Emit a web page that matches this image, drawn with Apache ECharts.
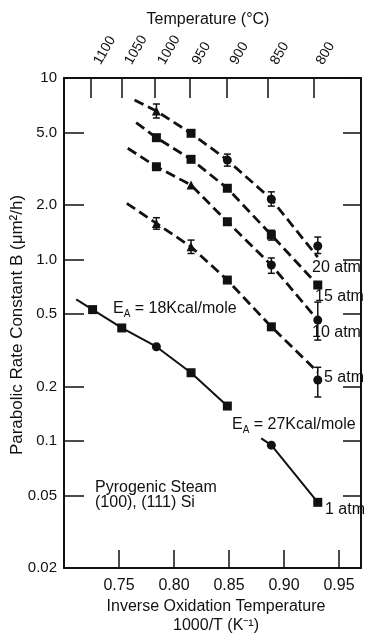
<!DOCTYPE html>
<html>
<head>
<meta charset="utf-8">
<script src="https://cdn.jsdelivr.net/npm/echarts@6/dist/echarts.min.js"></script>
<style>
  html, body { margin: 0; padding: 0; background: #fff; }
  #chart { width: 365px; height: 634px; }
</style>
</head>
<body>
<div id="chart"></div>
<script>
// ---- axes ----
const tempLabels = ['1100', '1050', '1000', '950', '900', '850', '800'];
const tempTickPos = [0.7247, 0.7529, 0.7829, 0.8141, 0.8484, 0.8853, 0.9268];
const invTicks = [0.75, 0.80, 0.85, 0.90, 0.95];
const rateTicks = [0.02, 0.05, 0.1, 0.2, 0.5, 1, 2, 5, 10];
const rateTickLabels = ['0.02', '0.05', '0.1', '0.2', '0.5', '1.0', '2.0', '5.0', '10'];

// 1000/T of the measurement temperatures, 1100 ... 800 °C
const invT = [0.726, 0.7525, 0.784, 0.8155, 0.8485, 0.8885, 0.9307];

// ---- 1 atm (all seven temperatures) ----
const b1atm = [0.53, 0.42, 0.331, 0.238, 0.156, 0.095, 0.046];
const shape1atm = ['rect', 'rect', 'circle', 'rect', 'rect', 'circle', 'rect'];
const fit18 = [[0.7111, 0.604], [0.726, 0.53], [0.7525, 0.42], [0.784, 0.331], [0.8155, 0.238], [0.8485, 0.156]];
const fit27 = [[0.8793, 0.1035], [0.8885, 0.095], [0.9307, 0.046]];

// ---- high pressure runs (1000 ... 800 °C) ----
const b20 = [6.58, 4.96, 3.53, 2.15, 1.187];
const b15 = [4.69, 3.565, 2.47, 1.365, 0.724];
const b10 = [3.245, 2.573, 1.615, 0.933, 0.464];
const b5 = [1.582, 1.176, 0.771, 0.426, 0.217];
const shape20 = ['triangle', 'rect', 'circle', 'circle', 'circle'];
const shape15 = ['rect', 'rect', 'rect', 'rect', 'rect'];
const shape10 = ['rect', 'triangle', 'rect', 'circle', 'circle'];
const shape5 = ['triangle', 'triangle', 'rect', 'rect', 'circle'];

// dashed fits
const fit20 = [[0.7641, 7.56], [0.784, 6.58], [0.8155, 4.96], [0.8485, 3.53], [0.8885, 2.15], [0.9307, 1.03]];
const fit15 = [[0.7656, 5.67], [0.784, 4.69], [0.8155, 3.565], [0.8485, 2.47], [0.8885, 1.365], [0.9307, 0.724]];
const fit10 = [[0.758, 4.10], [0.784, 3.245], [0.8155, 2.573], [0.8485, 1.615], [0.8885, 0.933], [0.9307, 0.464]];
const fit5 = [[0.7571, 2.04], [0.784, 1.582], [0.8155, 1.176], [0.8485, 0.771], [0.8885, 0.426], [0.9307, 0.24]];

// error bars: [1000/T, low, high]
const err20 = [[0.784, 6.02, 7.19], [0.8485, 3.27, 3.81], [0.8885, 1.97, 2.36], [0.9307, 1.08, 1.33]];
const err15 = [[0.8885, 1.28, 1.45]];
const err10 = [[0.8885, 0.84, 1.02], [0.9307, 0.36, 0.583]];
const err5 = [[0.784, 1.47, 1.70], [0.8155, 1.08, 1.28], [0.9307, 0.175, 0.255]];

const INK = '#111';
const FONT = '"Liberation Sans", Arial, sans-serif';

function markers(xs, ys, shapes) {
  return ys.map((y, i) => ({ value: [xs[i], y], symbol: shapes[i] }));
}

const hiT = invT.slice(2);

function scatter(data) {
  return {
    type: 'scatter', data: data, symbolSize: 9, z: 5,
    itemStyle: { color: INK, opacity: 1 }, silent: true
  };
}
function dashed(data) {
  return {
    type: 'line', data: data, showSymbol: false, silent: true, z: 3,
    lineStyle: { color: INK, width: 2.8, type: [10, 5] }
  };
}
function solid(data) {
  return {
    type: 'line', data: data, showSymbol: false, silent: true, z: 3,
    lineStyle: { color: INK, width: 2 }
  };
}
function errorBars(data) {
  return {
    type: 'custom', data: data, z: 4, silent: true,
    encode: { x: 0, y: [1, 2] },
    renderItem: function (params, api) {
      const lo = api.coord([api.value(0), api.value(1)]);
      const hi = api.coord([api.value(0), api.value(2)]);
      const w = 3.5;
      const st = { stroke: INK, lineWidth: 1.5 };
      return {
        type: 'group', children: [
          { type: 'line', shape: { x1: lo[0], y1: lo[1], x2: hi[0], y2: hi[1] }, style: st },
          { type: 'line', shape: { x1: lo[0] - w, y1: lo[1], x2: lo[0] + w, y2: lo[1] }, style: st },
          { type: 'line', shape: { x1: hi[0] - w, y1: hi[1], x2: hi[0] + w, y2: hi[1] }, style: st }
        ]
      };
    }
  };
}

function nearestLabel(v, positions, labels) {
  let best = 0;
  for (let i = 1; i < positions.length; i++) {
    if (Math.abs(positions[i] - v) < Math.abs(positions[best] - v)) best = i;
  }
  return labels[best];
}

const X_MIN = 0.70, X_MAX = 0.97;
const axisLineStyle = { color: INK, width: 2 };

function subText(x, y, tail) {
  return {
    type: 'text', x: x, y: y,
    style: {
      text: '{e|E}{s|A}{t|' + tail + '}', fill: INK,
      rich: {
        e: { fontSize: 16, fontFamily: FONT, lineHeight: 20, verticalAlign: 'middle' },
        s: { fontSize: 10, fontFamily: FONT, lineHeight: 20, verticalAlign: 'bottom', padding: [7, 0, 0, 0] },
        t: { fontSize: 16, fontFamily: FONT, lineHeight: 20, verticalAlign: 'middle' }
      }
    }
  };
}
function label(x, y, text) {
  return { type: 'text', x: x, y: y, style: { text: text, font: '16px ' + FONT, fill: INK, verticalAlign: 'middle' } };
}

const chart = echarts.init(document.getElementById('chart'), null, { renderer: 'canvas' });

chart.setOption({
  animation: false,
  backgroundColor: '#fff',
  grid: { left: 64, right: 4, top: 78, bottom: 66 },
  xAxis: [
    {
      type: 'value', position: 'bottom', min: X_MIN, max: X_MAX,
      axisLine: { show: true, onZero: false, lineStyle: axisLineStyle },
      axisTick: { show: true, inside: true, length: 18, customValues: invTicks, lineStyle: { color: INK, width: 1.5 } },
      axisLabel: {
        customValues: invTicks, margin: 10, color: INK, fontSize: 16, fontFamily: FONT,
        formatter: v => v.toFixed(2)
      },
      splitLine: { show: false }
    },
    {
      type: 'value', position: 'top', min: X_MIN, max: X_MAX,
      axisLine: { show: true, onZero: false, lineStyle: axisLineStyle },
      axisTick: { show: true, inside: true, length: 20, customValues: tempTickPos, lineStyle: { color: INK, width: 1.5 } },
      axisLabel: {
        customValues: tempTickPos, rotate: -60, margin: 18, verticalAlign: 'top',
        color: INK, fontSize: 14, fontFamily: FONT,
        formatter: v => nearestLabel(v, tempTickPos, tempLabels)
      },
      splitLine: { show: false }
    }
  ],
  yAxis: [
    {
      type: 'log', position: 'left', min: 0.02, max: 10, logBase: 10,
      axisLine: { show: true, onZero: false, lineStyle: axisLineStyle },
      axisTick: { show: true, inside: true, length: 20, customValues: rateTicks, lineStyle: { color: INK, width: 1.5 } },
      axisLabel: {
        customValues: rateTicks, margin: 7, color: INK, fontSize: 15, fontFamily: FONT,
        formatter: v => nearestLabel(v, rateTicks, rateTickLabels)
      },
      splitLine: { show: false }
    },
    {
      type: 'log', position: 'right', min: 0.02, max: 10, logBase: 10,
      axisLine: { show: true, onZero: false, lineStyle: axisLineStyle },
      axisTick: { show: true, inside: true, length: 18, customValues: rateTicks, lineStyle: { color: INK, width: 1.5 } },
      axisLabel: { show: false },
      splitLine: { show: false }
    }
  ],
  series: [
    solid(fit18),
    solid(fit27),
    dashed(fit20),
    dashed(fit15),
    dashed(fit10),
    dashed(fit5),
    errorBars(err20),
    errorBars(err15),
    errorBars(err10),
    errorBars(err5),
    scatter(markers(invT, b1atm, shape1atm)),
    scatter(markers(hiT, b20, shape20)),
    scatter(markers(hiT, b15, shape15)),
    scatter(markers(hiT, b10, shape10)),
    scatter(markers(hiT, b5, shape5))
  ],
  graphic: [
    { type: 'text', x: 208, y: 20, style: { text: 'Temperature (°C)', font: '16px ' + FONT, fill: INK, align: 'center', verticalAlign: 'middle' } },
    {
      type: 'text', x: 17, y: 325, rotation: Math.PI / 2,
      style: { text: 'Parabolic Rate Constant B (μm²/h)', font: '17px ' + FONT, fill: INK, align: 'center', verticalAlign: 'middle' }
    },
    { type: 'text', x: 216, y: 607, style: { text: 'Inverse Oxidation Temperature', font: '16px ' + FONT, fill: INK, align: 'center', verticalAlign: 'middle' } },
    { type: 'text', x: 216, y: 626, style: { text: '1000/T (K⁻¹)', font: '16px ' + FONT, fill: INK, align: 'center', verticalAlign: 'middle' } },
    subText(113, 299, ' = 18Kcal/mole'),
    subText(232, 415, ' = 27Kcal/mole'),
    label(95, 488, 'Pyrogenic Steam'),
    label(95, 503, '(100), (111) Si'),
    label(325, 510, '1 atm'),
    label(312, 268, '20 atm'),
    label(315, 297, '15 atm'),
    label(312, 333, '10 atm'),
    label(324, 378, '5 atm')
  ]
});
</script>
</body>
</html>
